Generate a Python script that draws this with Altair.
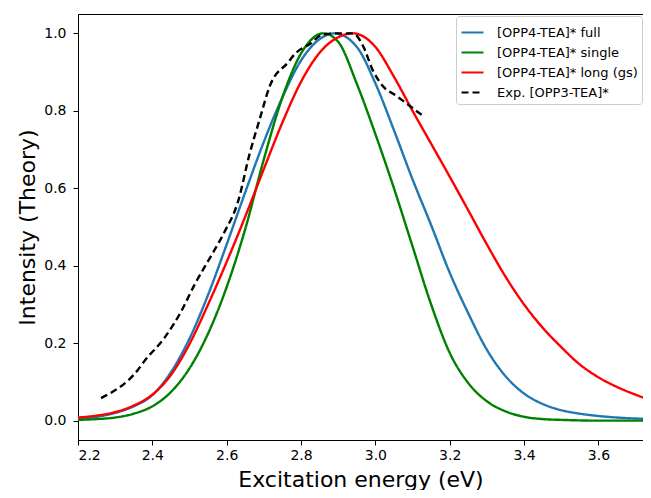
import altair as alt
import pandas as pd

series_names = ["[OPP4-TEA]* full", "[OPP4-TEA]* single", "[OPP4-TEA]* long (gs)", "Exp. [OPP3-TEA]*"]
series_colors = ["#1f77b4", "#008000", "#ff0000", "#000000"]

full_x = [2.20, 2.25, 2.30, 2.35, 2.40, 2.45, 2.50, 2.55, 2.60, 2.65, 2.70, 2.75, 2.80, 2.85, 2.89,
          2.95, 3.00, 3.05, 3.10, 3.15, 3.20, 3.25, 3.30, 3.35, 3.40, 3.45, 3.50, 3.55, 3.60, 3.65, 3.75]
full_y = [0.005, 0.010, 0.020, 0.037, 0.066, 0.125, 0.212, 0.325, 0.455, 0.590, 0.720, 0.835, 0.930, 0.985, 1.000,
          0.965, 0.871, 0.750, 0.623, 0.505, 0.382, 0.277, 0.183, 0.115, 0.070, 0.043, 0.027, 0.018, 0.012, 0.008, 0.004]

single_x = [2.20, 2.25, 2.30, 2.35, 2.40, 2.45, 2.50, 2.55, 2.60, 2.65, 2.70, 2.75, 2.80, 2.86,
            2.90, 2.95, 3.00, 3.05, 3.10, 3.15, 3.20, 3.25, 3.30, 3.35, 3.40, 3.45, 3.50, 3.60, 3.75]
single_y = [0.002, 0.004, 0.008, 0.018, 0.037, 0.074, 0.135, 0.225, 0.345, 0.495, 0.675, 0.835, 0.948, 1.000,
            0.978, 0.870, 0.740, 0.600, 0.450, 0.300, 0.175, 0.097, 0.050, 0.024, 0.010, 0.004, 0.002, 0.000, 0.000]

long_x = [2.20, 2.25, 2.30, 2.35, 2.40, 2.45, 2.50, 2.55, 2.60, 2.65, 2.70, 2.75, 2.80, 2.85, 2.90, 2.94,
          3.00, 3.05, 3.10, 3.15, 3.20, 3.25, 3.30, 3.35, 3.40, 3.45, 3.50, 3.55, 3.60, 3.65, 3.70, 3.75]
long_y = [0.008, 0.013, 0.022, 0.039, 0.067, 0.118, 0.198, 0.300, 0.410, 0.527, 0.650, 0.770, 0.875, 0.950, 0.990, 1.000,
          0.965, 0.888, 0.800, 0.715, 0.630, 0.543, 0.455, 0.372, 0.300, 0.240, 0.190, 0.145, 0.112, 0.087, 0.067, 0.050]

exp_x = [2.262, 2.361, 2.378, 2.432, 2.477, 2.513, 2.559, 2.594, 2.630, 2.662, 2.689, 2.716, 2.765, 2.787,
         2.823, 2.859, 2.900, 2.940, 2.967, 2.993, 3.020, 3.056, 3.092, 3.128]
exp_y = [0.058, 0.131, 0.153, 0.213, 0.281, 0.350, 0.427, 0.487, 0.564, 0.690, 0.779, 0.864, 0.925, 0.950,
         0.972, 0.997, 1.000, 1.000, 0.967, 0.905, 0.864, 0.839, 0.813, 0.787]

x_ticks = [2.2, 2.4, 2.6, 2.8, 3.0, 3.2, 3.4, 3.6]
y_ticks = [0.0, 0.2, 0.4, 0.6, 0.8, 1.0]

rows = []
for name, xs, ys in zip(series_names, [full_x, single_x, long_x, exp_x], [full_y, single_y, long_y, exp_y]):
    for i, (xv, yv) in enumerate(zip(xs, ys)):
        rows.append({"x": xv, "y": yv, "series": name, "order": i})
df = pd.DataFrame(rows)

color_scale = alt.Scale(domain=series_names, range=series_colors)
dash_scale = alt.Scale(domain=series_names, range=[[1, 0], [1, 0], [1, 0], [7, 4]])

legend = alt.Legend(
    title=None, orient="none", legendX=378, legendY=2,
    symbolType="stroke", symbolSize=484, symbolStrokeWidth=2.2,
    labelFontSize=13, labelFont="DejaVu Sans", labelColor="black",
    fillColor="white", strokeColor="#cccccc", cornerRadius=3, padding=4,
    rowPadding=-2, labelOffset=12, symbolOffset=0,
)

x_enc = alt.X("x:Q", scale=alt.Scale(domain=[2.2, 3.72], nice=False, zero=False),
              axis=alt.Axis(values=x_ticks, format=".1f", title="Excitation energy (eV)",
                            titleY=46, titleBaseline="alphabetic", labelPadding=3))
y_enc = alt.Y("y:Q", scale=alt.Scale(domain=[-0.05, 1.05], nice=False, zero=False),
              axis=alt.Axis(values=y_ticks, format=".1f", title="Intensity (Theory)",
                            titleX=-44, titleBaseline="alphabetic", labelPadding=7))

chart = alt.Chart(df).mark_line(strokeWidth=2.4, clip=True, interpolate="monotone").encode(
    x=x_enc,
    y=y_enc,
    color=alt.Color("series:N", scale=color_scale, legend=legend, sort=series_names),
    strokeDash=alt.StrokeDash("series:N", scale=dash_scale, legend=legend, sort=series_names),
    order="order:Q",
).properties(
    width=565, height=426,
    autosize=alt.AutoSizeParams(type="none"),
    padding={"left": 70, "top": 6, "right": 0, "bottom": 50},
).configure_axis(
    labelFont="DejaVu Sans", titleFont="DejaVu Sans",
    labelFontSize=14, titleFontSize=22, titleFontWeight="normal",
    labelColor="black", titleColor="black", tickColor="black", domainColor="black",
    tickSize=5, grid=False,
).configure_view(
    stroke="black", strokeWidth=1
)

chart.save("out.html", embed_options={"renderer": "svg", "actions": False})
